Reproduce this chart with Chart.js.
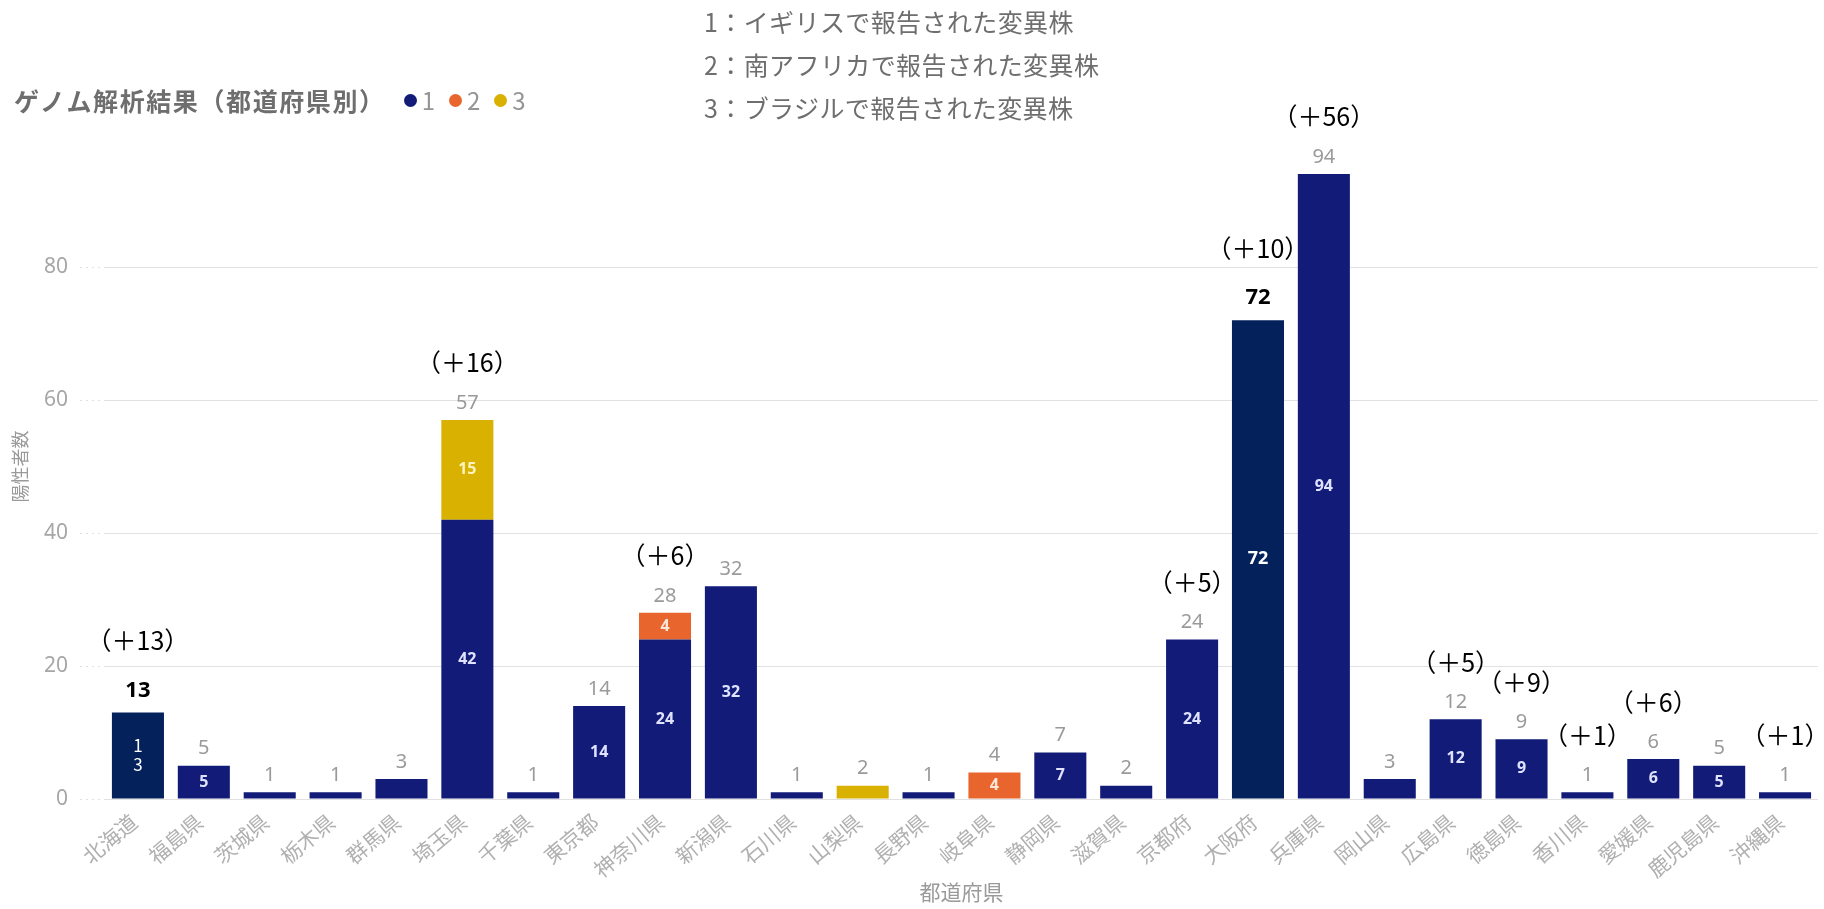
<!DOCTYPE html>
<html lang="ja">
<head>
<meta charset="utf-8">
<title>ゲノム解析結果（都道府県別）</title>
<script src="https://cdn.jsdelivr.net/npm/chart.js@4.4.1/dist/chart.umd.min.js"></script>
<style>
  html, body { margin: 0; padding: 0; background: #fff; overflow: hidden; }
  #wrap { position: relative; width: 1824px; height: 909px; }
  #chart { position: absolute; left: 0; top: 0; }
  #legend {
    position: absolute; left: 14px; top: 85px; height: 30px; line-height: 30px;
    display: flex; align-items: center; white-space: nowrap;
    font-family: "Noto Sans CJK JP", sans-serif;
  }
  #legend .ttl { font-size: 25px; font-weight: 700; color: #6e6e6e; letter-spacing: 1.6px; margin-right: 18px; }
  #legend .item { display: flex; align-items: center; font-size: 24px; color: #959595; margin-right: 14px; }
  #legend .dot { width: 13px; height: 13px; border-radius: 50%; margin-right: 5px; }
  #notes {
    position: absolute; left: 704px; top: 0; white-space: nowrap;
    font-family: "Noto Sans CJK JP", sans-serif; font-size: 25px; letter-spacing: 0.4px;
    line-height: 43px; color: #6e6e6e;
  }
</style>
</head>
<body>
<div id="wrap">
  <canvas id="chart" width="1824" height="909"></canvas>
  <div id="legend"><span class="ttl">ゲノム解析結果（都道府県別）</span></div>
  <div id="notes"></div>
</div>
<script>
// 都道府県別の変異株陽性者数
const prefectures = [
  '北海道', '福島県', '茨城県', '栃木県', '群馬県', '埼玉県', '千葉県', '東京都', '神奈川県',
  '新潟県', '石川県', '山梨県', '長野県', '岐阜県', '静岡県', '滋賀県', '京都府', '大阪府',
  '兵庫県', '岡山県', '広島県', '徳島県', '香川県', '愛媛県', '鹿児島県', '沖縄県'
];
const variantUK = [13, 5, 1, 1, 3, 42, 1, 14, 24, 32, 1, 0, 1, 0, 7, 2, 24, 72, 94, 3, 12, 9, 1, 6, 5, 1];
const variantSA = [0, 0, 0, 0, 0, 0, 0, 0, 4, 0, 0, 0, 0, 4, 0, 0, 0, 0, 0, 0, 0, 0, 0, 0, 0, 0];
const variantBR = [0, 0, 0, 0, 0, 15, 0, 0, 0, 0, 0, 2, 0, 0, 0, 0, 0, 0, 0, 0, 0, 0, 0, 0, 0, 0];
// 前回からの増加数（なしは null）
const increases = [13, null, null, null, null, 16, null, null, 6, null, null, null, null, null, null, null, 5, 10, 56, null, 5, 9, 1, 6, null, 1];
// 更新済みの都道府県
const highlighted = ['北海道', '大阪府'];

const seriesNames = ['1', '2', '3'];
const seriesNotes = ['イギリスで報告された変異株', '南アフリカで報告された変異株', 'ブラジルで報告された変異株'];
const seriesColors = ['#121c78', '#e8662e', '#d9b100'];
const highlightColor = '#04215c';
const yTicks = [0, 20, 40, 60, 80];

const totals = prefectures.map((p, i) => variantUK[i] + variantSA[i] + variantBR[i]);
const FONT = '"Noto Sans CJK JP", "Noto Sans", sans-serif';
const GRID = 'rgba(195,195,195,0.5)';

// 凡例と注記
const legendEl = document.getElementById('legend');
seriesNames.forEach((name, i) => {
  const item = document.createElement('span');
  item.className = 'item';
  item.innerHTML = '<span class="dot" style="background:' + seriesColors[i] + '"></span>' + name;
  legendEl.appendChild(item);
});
document.getElementById('notes').innerHTML =
  seriesNames.map((name, i) => '<div>' + name + '：' + seriesNotes[i] + '</div>').join('');

// 棒の中・上に数値と増加数を描く
const barLabels = {
  id: 'barLabels',
  afterDatasetsDraw(chart) {
    const ctx = chart.ctx;
    const yScale = chart.scales.y;
    ctx.save();
    ctx.textAlign = 'center';
    ctx.textBaseline = 'middle';

    chart.data.datasets.forEach((ds, di) => {
      const meta = chart.getDatasetMeta(di);
      meta.data.forEach((bar, i) => {
        const v = ds.data[i];
        if (v < 4) return;
        const cy = (bar.y + bar.base) / 2;
        const hl = di === 0 && highlighted.includes(prefectures[i]);
        if (hl && bar.base - bar.y < 120) {
          // 幅が足りないので1文字ずつ改行
          ctx.fillStyle = '#ffffff';
          ctx.font = '17px ' + FONT;
          const chars = String(v).split('');
          chars.forEach((c, k) => {
            ctx.fillText(c, bar.x, cy + (k - (chars.length - 1) / 2) * 19);
          });
        } else {
          ctx.fillStyle = hl ? '#ffffff' : ['#dfe3ff', '#fde6d8', '#fff4c0'][di];
          ctx.font = 'bold ' + (hl ? 18 : 16) + 'px "Noto Sans", sans-serif';
          ctx.fillText(String(v), bar.x, cy);
        }
      });
    });

    const meta0 = chart.getDatasetMeta(0);
    prefectures.forEach((p, i) => {
      const x = meta0.data[i].x;
      const hl = highlighted.includes(p);
      const ly = yScale.getPixelForValue(totals[i]) - (hl ? 22 : 17);
      if (hl) {
        ctx.fillStyle = '#000000';
        ctx.font = 'bold 22px "Noto Sans", sans-serif';
      } else {
        ctx.fillStyle = '#9a9a9a';
        ctx.font = '20px "Noto Sans", sans-serif';
      }
      ctx.fillText(String(totals[i]), x, ly);
      if (increases[i] != null) {
        ctx.fillStyle = '#000000';
        ctx.font = '25px ' + FONT;
        ctx.fillText('（＋' + increases[i] + '）', x, ly - (hl ? 50 : 40));
      }
    });
    ctx.restore();
  }
};

const datasets = [variantUK, variantSA, variantBR].map((values, di) => ({
  label: seriesNames[di],
  data: values,
  backgroundColor: di === 0
    ? (c) => highlighted.includes(prefectures[c.dataIndex]) ? highlightColor : seriesColors[0]
    : seriesColors[di],
  borderWidth: 0,
  barPercentage: 0.79,
  categoryPercentage: 1.0
}));

new Chart(document.getElementById('chart'), {
  type: 'bar',
  data: { labels: prefectures, datasets: datasets },
  options: {
    responsive: false,
    animation: false,
    layout: { padding: { top: 134, right: 6, bottom: 0, left: 0 } },
    plugins: {
      legend: { display: false },
      tooltip: { enabled: false }
    },
    scales: {
      x: {
        stacked: true,
        grid: { display: false, drawTicks: false },
        border: { display: false },
        ticks: {
          autoSkip: false,
          minRotation: 40,
          maxRotation: 40,
          padding: 10,
          labelOffset: -4,
          color: '#b0b0b0',
          font: { family: FONT, size: 21 }
        },
        title: {
          display: true,
          text: '都道府県',
          color: '#9a9a9a',
          font: { family: FONT, size: 21 },
          padding: { top: 4, bottom: 4 }
        },
        afterFit(scale) { scale.height = 110; }
      },
      y: {
        stacked: true,
        min: 0,
        max: 100,
        afterBuildTicks(scale) {
          scale.ticks = yTicks.map(v => ({ value: v }));
        },
        grid: {
          color: GRID,
          lineWidth: 1,
          borderDash: [2, 4],
          tickLength: 25,
          tickColor: GRID,
          tickBorderDash: [2, 4]
        },
        border: { display: false },
        ticks: {
          padding: 12,
          color: '#a6a6a6',
          font: { family: '"Noto Sans", sans-serif', size: 21 }
        },
        title: {
          display: true,
          text: '陽性者数',
          color: '#9a9a9a',
          font: { family: FONT, size: 18 },
          padding: { top: 9, bottom: 0 }
        },
        afterFit(scale) { scale.width = 105; }
      }
    }
  },
  plugins: [barLabels]
});
</script>
</body>
</html>
